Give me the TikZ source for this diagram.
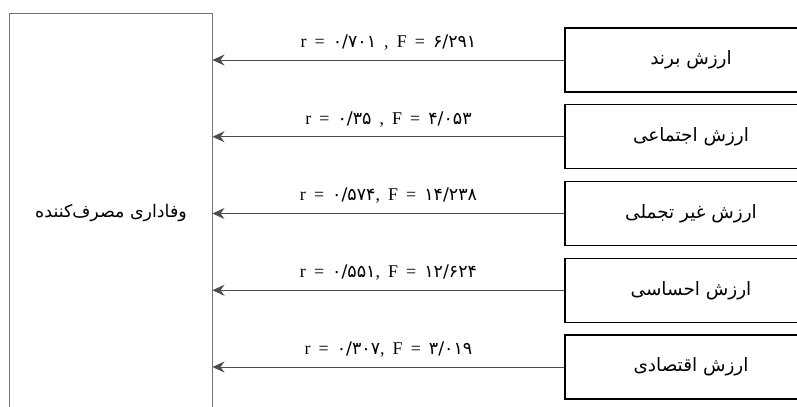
\documentclass[tikz,border=0pt]{standalone}
\usepackage{fontspec}
\setmainfont{Liberation Serif}
\newfontfamily\farsi[Script=Arabic]{DejaVu Sans}
\newfontfamily\statfont[WordSpace=1.8]{Liberation Serif}
\TeXXeTstate=1
\usepackage{tikz}
\usetikzlibrary{arrows.meta}
\newcommand{\fa}[1]{{\farsi\fontsize{17.5}{19}\selectfont #1}}
\tikzset{
  valuenode/.style = {shape=rectangle, draw, line width=1.1bp, anchor=center,
                      minimum width=252bp, minimum height=64bp,
                      font=\farsi\fontsize{18.5}{20}\selectfont},
  loyalnode/.style = {shape=rectangle, draw=black!55, line width=1bp, anchor=center,
                      minimum width=202bp, minimum height=400bp,
                      font=\farsi\fontsize{17.5}{20}\selectfont},
  arrow/.style = {draw=black!70, line width=0.9bp,
                  -{Stealth[length=12bp, width=11bp, inset=4bp]}},
  stat/.style = {above=6bp, font=\statfont\fontsize{18}{20}\selectfont, text=black}
}

\begin{document}
\begin{tikzpicture}[node distance=76.75bp, x=1bp, y=-1bp]
            \useasboundingbox (0,0) rectangle (797,406);
            \node (brand) [valuenode] at (691,60) {\beginR ارزش برند\endR};
            \node (social) [valuenode, below of=brand] {\beginR ارزش اجتماعی\endR};
            \node (nonlux) [valuenode, below of=social] {\beginR ارزش غیر تجملی\endR};
            \node (emot) [valuenode, below of=nonlux] {\beginR ارزش احساسی\endR};
            \node (econ) [valuenode, below of=emot] {\beginR ارزش اقتصادی\endR};
            \node (loyal) [loyalnode] at (111,213) {\beginR وفاداری مصرف‌کننده\endR};

            \draw [arrow] (brand) -- node [stat] {r = \fa{۰/۷۰۱} , F = \fa{۶/۲۹۱}} (loyal.east |- brand);
            \draw [arrow] (social) -- node [stat] {r = \fa{۰/۳۵} , F = \fa{۴/۰۵۳}} (loyal.east |- social);
            \draw [arrow] (nonlux) -- node [stat] {r = \fa{۰/۵۷۴}, F = \fa{۱۴/۲۳۸}} (loyal.east |- nonlux);
            \draw [arrow] (emot) -- node [stat] {r = \fa{۰/۵۵۱}, F = \fa{۱۲/۶۲۴}} (loyal.east |- emot);
            \draw [arrow] (econ) -- node [stat] {r = \fa{۰/۳۰۷}, F = \fa{۳/۰۱۹}} (loyal.east |- econ);
        \end{tikzpicture}
\end{document}
